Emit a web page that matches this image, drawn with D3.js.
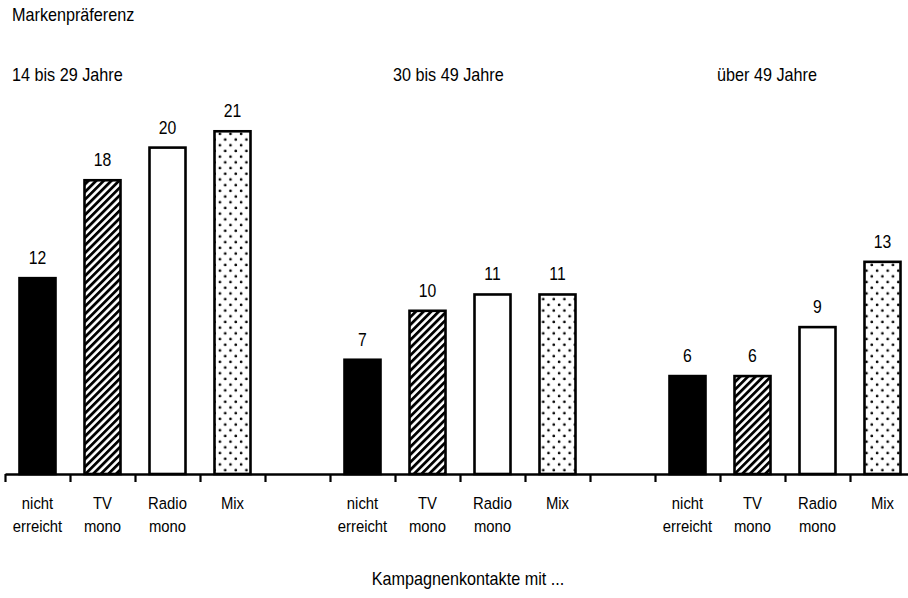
<!DOCTYPE html>
<html>
<head>
<meta charset="utf-8">
<script src="https://cdn.jsdelivr.net/npm/d3@7/dist/d3.min.js"></script>
<style>
  html, body { margin: 0; padding: 0; background: #fff; }
  svg { display: block; }
  text { font-family: "Liberation Sans", Arial, Helvetica, sans-serif; fill: #000; }
</style>
</head>
<body>
<svg id="chart" width="908" height="598"></svg>
<script>
// Markenpräferenz nach Altersgruppe und Kampagnenkontakt
const title = "Markenpräferenz";
const xAxisTitle = "Kampagnenkontakte mit ...";
const ageGroups = ["14 bis 29 Jahre", "30 bis 49 Jahre", "über 49 Jahre"];
const contactTypes = ["nicht erreicht", "TV mono", "Radio mono", "Mix"];
const contactLines = [["nicht", "erreicht"], ["TV", "mono"], ["Radio", "mono"], ["Mix"]];
const values14to29 = [12, 18, 20, 21];
const values30to49 = [7, 10, 11, 11];
const valuesOver49 = [6, 6, 9, 13];
const seriesByGroup = [values14to29, values30to49, valuesOver49];

const svg = d3.select("#chart");
const baseY = 474;
const unitPx = 16.32;

// Slot keys: four contact slots per age group, one empty slot between groups
const slotKeys = [];
ageGroups.forEach((g, gi) => {
  contactTypes.forEach(c => slotKeys.push(g + "|" + c));
  if (gi < ageGroups.length - 1) slotKeys.push("gap" + gi);
});

const x = d3.scaleBand().domain(slotKeys).range([5, 915]).paddingInner(0).paddingOuter(0);
const y = d3.scaleLinear().domain([0, 21]).range([baseY, baseY - 21 * unitPx]);
const barW = 36;

// Fill patterns
const defs = svg.append("defs");
const hatch = defs.append("pattern")
  .attr("id", "hatch").attr("patternUnits", "userSpaceOnUse")
  .attr("width", 5.4).attr("height", 5.4)
  .attr("patternTransform", "rotate(45)");
hatch.append("rect").attr("width", 5.4).attr("height", 5.4).attr("fill", "#fff");
hatch.append("rect").attr("x", 0).attr("width", 2.8).attr("height", 5.4).attr("fill", "#000");

const dots = defs.append("pattern")
  .attr("id", "dots").attr("patternUnits", "userSpaceOnUse")
  .attr("width", 10.6).attr("height", 11.4);
dots.append("rect").attr("width", 10.6).attr("height", 11.4).attr("fill", "#fff");
dots.append("circle").attr("cx", 2.6).attr("cy", 2.8).attr("r", 1.35).attr("fill", "#000");
dots.append("circle").attr("cx", 7.9).attr("cy", 8.5).attr("r", 1.35).attr("fill", "#000");

const fills = ["#000", "url(#hatch)", "#fff", "url(#dots)"];

// Narrow text helper (condensed sans look)
function label(sel, str, px, py, size, anchor) {
  return sel.append("text")
    .attr("transform", `translate(${px},${py}) scale(0.9,1)`)
    .attr("text-anchor", anchor || "start")
    .style("font-size", size + "px")
    .text(str);
}

// Title and group headings
label(svg, title, 12, 21, 18);
const groupLabelX = [12, 393, 717];
ageGroups.forEach((g, gi) => label(svg, g, groupLabelX[gi], 81, 18));

// Bars and value labels
const bars = [];
ageGroups.forEach((g, gi) => {
  contactTypes.forEach((c, ci) => {
    bars.push({ key: g + "|" + c, value: seriesByGroup[gi][ci], ci });
  });
});

const barG = svg.append("g");
barG.selectAll("rect").data(bars).join("rect")
  .attr("x", d => x(d.key) + (x.bandwidth() - barW) / 2)
  .attr("y", d => y(d.value))
  .attr("width", barW)
  .attr("height", d => y(0) - y(d.value))
  .attr("fill", d => fills[d.ci])
  .attr("stroke", "#000")
  .attr("stroke-width", 2.6);

bars.forEach(d => {
  label(svg, String(d.value), x(d.key) + x.bandwidth() / 2, y(d.value) - 14, 17.5, "middle");
});

// Axis with boundary ticks between slots
const tickScale = d3.scaleLinear().domain([0, slotKeys.length]).range([5, 915]);
const axis = d3.axisBottom(tickScale)
  .tickValues(d3.range(0, slotKeys.length + 1))
  .tickSize(8).tickSizeOuter(0).tickFormat("");
const axG = svg.append("g").attr("transform", `translate(0,${baseY})`).call(axis);
axG.select(".domain").attr("stroke", "#000").attr("stroke-width", 2.4);
axG.selectAll(".tick line").attr("stroke", "#000").attr("stroke-width", 2.2);

// Category labels
ageGroups.forEach((g, gi) => {
  contactTypes.forEach((c, ci) => {
    const cx = x(g + "|" + c) + x.bandwidth() / 2;
    contactLines[ci].forEach((ln, li) => label(svg, ln, cx, 509 + li * 22.5, 16.5, "middle"));
  });
});

// Axis title
label(svg, xAxisTitle, 468, 585, 18, "middle");
</script>
</body>
</html>
